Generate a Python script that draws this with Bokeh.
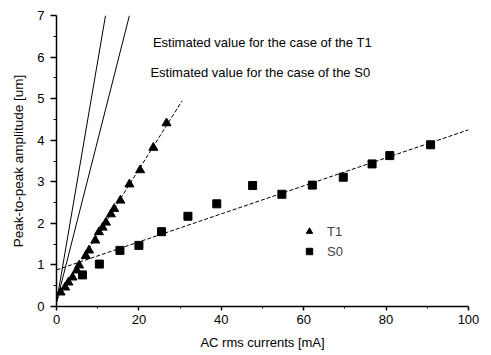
from bokeh.plotting import figure
from bokeh.models import (Range1d, FixedTicker, Label, Legend, LegendItem)
from bokeh.embed import file_html
from bokeh.resources import INLINE

# ---- data ----
t1_x = [1.0, 2.1, 2.9, 3.9, 4.9, 5.5, 7.1, 7.9, 9.4, 10.3, 11.2, 12.0, 13.2, 14.0, 15.5, 17.7, 20.3, 23.5, 26.7]
t1_y = [0.34, 0.46, 0.58, 0.70, 0.87, 0.99, 1.22, 1.35, 1.59, 1.79, 1.90, 2.02, 2.22, 2.35, 2.55, 2.94, 3.28, 3.82, 4.41]

s0_x = [6.3, 10.4, 15.4, 20.0, 25.5, 31.9, 38.9, 47.6, 54.7, 62.1, 69.6, 76.6, 80.9, 90.8]
s0_y = [0.76, 1.02, 1.35, 1.47, 1.80, 2.17, 2.47, 2.91, 2.70, 2.92, 3.11, 3.43, 3.63, 3.89]

t1_fit_x = [0.0, 30.5]
t1_fit_y = [0.15, 4.95]
s0_fit_x = [0.0, 100.0]
s0_fit_y = [0.88, 4.25]

est_t1_x = [0.0, 11.9]
est_t1_y = [0.1, 7.0]
est_s0_x = [0.0, 17.7]
est_s0_y = [0.1, 7.0]

x_ticks = [0, 20, 40, 60, 80, 100]
x_minor = [10, 30, 50, 70, 90]
y_ticks = [0, 1, 2, 3, 4, 5, 6, 7]
y_minor = [0.5, 1.5, 2.5, 3.5, 4.5, 5.5, 6.5]

FONT = "Liberation Sans"

p = figure(width=491, height=355, output_backend="svg", toolbar_location=None,
           x_range=Range1d(0, 100), y_range=Range1d(0, 7),
           min_border_left=56, min_border_right=23, min_border_top=15, min_border_bottom=49)
p.outline_line_color = None
p.xgrid.visible = False
p.ygrid.visible = False
p.background_fill_color = "white"
p.border_fill_color = "white"

for ax, ticks, minor in ((p.xaxis[0], x_ticks, x_minor), (p.yaxis[0], y_ticks, y_minor)):
    ax.ticker = FixedTicker(ticks=ticks, minor_ticks=minor)
    ax.axis_line_color = "black"
    ax.axis_line_width = 1.5
    ax.major_tick_line_color = "black"
    ax.minor_tick_line_color = "black"
    ax.major_tick_line_width = 1.5
    ax.major_tick_in = 0
    ax.minor_tick_in = 0
    ax.major_label_text_font = FONT
    ax.major_label_text_font_size = "13px"
    ax.major_label_text_color = "black"
    ax.axis_label_text_font = FONT
    ax.axis_label_text_font_size = "13px"
    ax.axis_label_text_font_style = "normal"
    ax.axis_label_text_color = "black"

p.yaxis.major_tick_out = 6
p.yaxis.minor_tick_out = 3
p.xaxis.major_tick_out = 4
p.xaxis.minor_tick_out = 2

p.xaxis.axis_label = "AC rms currents [mA]"
p.yaxis.axis_label = "Peak-to-peak amplitude [um]"
p.xaxis.axis_label_standoff = 8
p.yaxis.axis_label_standoff = 8
p.xaxis.major_label_standoff = 4
p.yaxis.major_label_standoff = 6
p.yaxis.axis_label_text_font_size = "13.5px"

# estimated lines
p.line(est_t1_x, est_t1_y, line_color="black", line_width=1)
p.line(est_s0_x, est_s0_y, line_color="black", line_width=1)

# fit lines
p.line(t1_fit_x, t1_fit_y, line_color="black", line_width=1, line_dash="4 2")
p.line(s0_fit_x, s0_fit_y, line_color="black", line_width=1, line_dash="4 2")

r_t1 = p.scatter(t1_x, t1_y, marker="triangle", size=9, fill_color="black", line_color="black")
r_s0 = p.scatter(s0_x, s0_y, marker="square", size=8, fill_color="black", line_color="black")

p.add_layout(Label(x=23.4, y=6.35, text="Estimated value for the case of the T1",
                   text_font=FONT, text_font_size="13px", text_color="black",
                   text_baseline="middle", text_align="left"))
p.add_layout(Label(x=22.8, y=5.62, text="Estimated value for the case of the S0",
                   text_font=FONT, text_font_size="13px", text_color="black",
                   text_baseline="middle", text_align="left"))

legend = Legend(items=[LegendItem(label="T1", renderers=[r_t1]),
                       LegendItem(label="S0", renderers=[r_s0])],
                location=(245, 45), padding=0, margin=0, spacing=0,
                glyph_width=16, glyph_height=20, label_height=20, label_standoff=10,
                border_line_color=None, background_fill_alpha=0,
                label_text_font=FONT, label_text_font_size="13px")
p.add_layout(legend, "center")

open("out.html", "w").write(file_html(p, INLINE))
